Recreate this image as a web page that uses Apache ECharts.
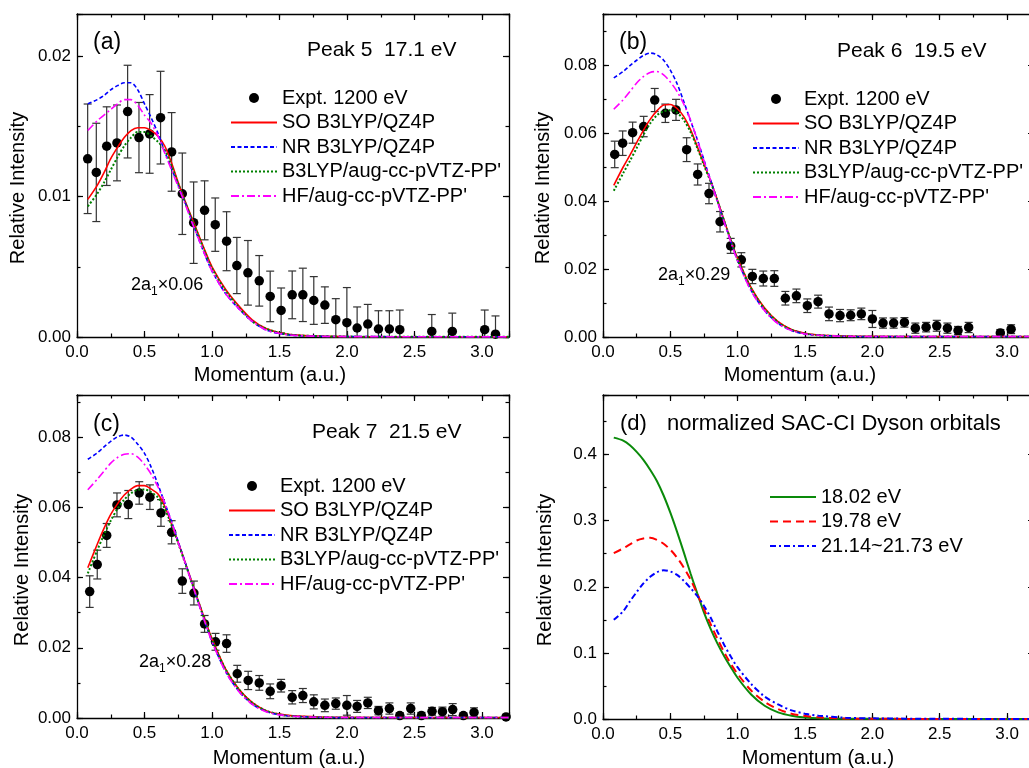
<!DOCTYPE html>
<html>
<head>
<meta charset="utf-8">
<script src="https://cdn.jsdelivr.net/npm/echarts@6/dist/echarts.min.js"></script>
<style>
html,body{margin:0;padding:0;background:#fff;}
#chart{width:1029px;height:768px;}
</style>
</head>
<body>
<div id="chart"></div>
<script>
// ---------------- DATA ----------------
const momentumGrid = [0.08,0.15,0.2,0.25,0.3,0.35,0.4,0.45,0.5,0.55,0.6,0.65,0.7,0.75,0.8,0.85,0.9,0.95,1.0,1.1,1.2,1.3,1.4,1.5,1.6,1.8,2.0,2.5,3.0,3.2];
const xTickLabels = ['0.0','0.5','1.0','1.5','2.0','2.5','3.0'];

// Panel (a) Peak 5 17.1 eV
const expA_x = [0.079,0.143,0.220,0.296,0.375,0.459,0.538,0.619,0.701,0.780,0.864,0.945,1.024,1.108,1.184,1.266,1.350,1.431,1.512,1.594,1.673,1.754,1.836,1.917,1.999,2.075,2.154,2.233,2.314,2.391,2.628,2.780,3.020,3.100];
const expA_y = [0.01269,0.01172,0.01359,0.01382,0.01605,0.0142,0.01446,0.01562,0.01318,0.0102,0.00814,0.00902,0.0080,0.00682,0.00509,0.00457,0.0040,0.00289,0.00189,0.0030,0.0030,0.0026,0.00227,0.00123,0.00102,0.00064,0.00092,0.00057,0.00057,0.00052,0.0004,0.0004,0.00052,0.0002];
const expA_err = [0.0039,0.0035,0.0028,0.0027,0.0033,0.0025,0.0028,0.0033,0.0028,0.0029,0.0029,0.0021,0.0019,0.0021,0.0020,0.0023,0.0018,0.0018,0.0016,0.0017,0.0019,0.0017,0.0013,0.0015,0.0025,0.0015,0.0014,0.0013,0.0013,0.0014,0.0012,0.0013,0.0014,0.0013];
const soA = [0.0098,0.0108,0.0117,0.0127,0.0135,0.0142,0.0147,0.0149,0.0149,0.0147,0.0143,0.0136,0.0124,0.0110,0.0097,0.0085,0.0073,0.0061,0.0050,0.0034,0.0022,0.0012,0.0006,0.0003,0.00015,0.00006,0.00003,0.00002,0.00001,0.00001];
const nrA = [0.0166,0.0169,0.0172,0.0176,0.0179,0.0181,0.0181,0.0176,0.0166,0.0156,0.0145,0.0132,0.0120,0.0108,0.0096,0.0083,0.0070,0.0058,0.0047,0.0031,0.0020,0.0011,0.0005,0.00025,0.00012,0.00005,0.00003,0.00002,0.00001,0.00001];
const b3A = [0.0093,0.0102,0.0110,0.0119,0.0128,0.0136,0.0142,0.0146,0.0146,0.0143,0.0139,0.0133,0.0122,0.0109,0.0096,0.0084,0.0072,0.0060,0.0049,0.0033,0.0021,0.0011,0.0006,0.0003,0.00014,0.00006,0.00003,0.00002,0.00001,0.00001];
const hfA = [0.0147,0.0154,0.0158,0.0162,0.0166,0.0169,0.0169,0.0165,0.0158,0.0152,0.0143,0.0131,0.0119,0.0107,0.0095,0.0082,0.0070,0.0058,0.0047,0.0031,0.0020,0.0011,0.0005,0.00025,0.00012,0.00005,0.00003,0.00002,0.00001,0.00001];

// Panel (b) Peak 6 19.5 eV
const expB_x = [0.087,0.146,0.220,0.302,0.384,0.463,0.542,0.621,0.703,0.787,0.869,0.948,1.027,1.109,1.190,1.272,1.354,1.436,1.517,1.597,1.678,1.760,1.839,1.918,2.000,2.079,2.158,2.238,2.319,2.399,2.478,2.557,2.636,2.715,2.950,3.030];
const expB_y = [0.0537,0.0570,0.0601,0.0619,0.0697,0.0658,0.0668,0.0551,0.0478,0.0422,0.0339,0.0268,0.0227,0.0178,0.0172,0.0172,0.0114,0.0121,0.0092,0.0104,0.0068,0.0063,0.0064,0.0068,0.0053,0.0041,0.0041,0.0043,0.0026,0.0029,0.0033,0.0026,0.0019,0.0028,0.0012,0.0023];
const expB_err = [0.0039,0.0036,0.0031,0.0030,0.0034,0.0027,0.0031,0.0035,0.0031,0.0030,0.0030,0.0022,0.0021,0.0021,0.0022,0.0023,0.0020,0.0020,0.0020,0.0019,0.0020,0.0018,0.0016,0.0017,0.0025,0.0015,0.0015,0.0014,0.0015,0.0014,0.0016,0.0015,0.0012,0.0015,0.0010,0.0013];
const soB = [0.0446,0.0500,0.0535,0.0572,0.0608,0.0640,0.0665,0.0682,0.0684,0.0672,0.0648,0.0610,0.0560,0.0508,0.0458,0.0402,0.0342,0.0284,0.0231,0.0145,0.0085,0.0045,0.0022,0.0011,0.0006,0.0003,0.0002,0.0001,0.0001,0.0001];
const nrB = [0.0762,0.0781,0.0798,0.0814,0.0828,0.0835,0.0830,0.0814,0.0785,0.0745,0.0692,0.0636,0.0581,0.0520,0.0460,0.0400,0.0339,0.0280,0.0225,0.0137,0.0078,0.0040,0.0019,0.0009,0.0005,0.0002,0.0001,0.0001,0.0001,0.0001];
const b3B = [0.0430,0.0482,0.0518,0.0556,0.0594,0.0628,0.0652,0.0664,0.0667,0.0660,0.0638,0.0603,0.0556,0.0505,0.0455,0.0400,0.0341,0.0283,0.0229,0.0143,0.0083,0.0044,0.0021,0.0010,0.0005,0.0002,0.0001,0.0001,0.0001,0.0001];
const hfB = [0.0670,0.0698,0.0722,0.0747,0.0766,0.0778,0.0781,0.0771,0.0750,0.0722,0.0685,0.0638,0.0580,0.0518,0.0458,0.0398,0.0337,0.0278,0.0223,0.0135,0.0077,0.0039,0.0019,0.0009,0.0005,0.0002,0.0001,0.0001,0.0001,0.0001];

// Panel (c) Peak 7 21.5 eV
const expC_x = [0.094,0.150,0.220,0.296,0.380,0.461,0.540,0.622,0.701,0.780,0.866,0.945,1.026,1.108,1.187,1.268,1.350,1.431,1.512,1.594,1.673,1.754,1.836,1.917,1.999,2.075,2.154,2.233,2.314,2.391,2.472,2.551,2.630,2.707,2.783,2.862,2.941,3.178];
const expC_y = [0.0360,0.0437,0.0520,0.0607,0.0608,0.0641,0.0629,0.0584,0.0529,0.0390,0.0356,0.0268,0.0217,0.0212,0.0126,0.0107,0.0100,0.0076,0.0092,0.0059,0.0064,0.0046,0.0036,0.0041,0.0036,0.0033,0.0043,0.0021,0.0027,0.0007,0.0027,0.0007,0.0019,0.0018,0.0024,0.0007,0.0016,0.0003];
const expC_err = [0.0045,0.0041,0.0034,0.0034,0.0040,0.0032,0.0035,0.0038,0.0033,0.0035,0.0034,0.0024,0.0024,0.0025,0.0024,0.0026,0.0021,0.0021,0.0018,0.0019,0.0020,0.0020,0.0018,0.0016,0.0028,0.0017,0.0016,0.0012,0.0016,0.0008,0.0016,0.0009,0.0011,0.0013,0.0017,0.0007,0.0013,0.0005];
const soC = [0.0428,0.0495,0.0540,0.0580,0.0610,0.0635,0.0652,0.0662,0.0662,0.0652,0.0638,0.0603,0.0553,0.0500,0.0445,0.0388,0.0332,0.0277,0.0226,0.0140,0.0082,0.0044,0.0021,0.0011,0.0006,0.0003,0.0002,0.0001,0.0001,0.0001];
const nrC = [0.0737,0.0755,0.0772,0.0788,0.0801,0.0806,0.0800,0.0780,0.0754,0.0714,0.0665,0.0612,0.0560,0.0502,0.0445,0.0386,0.0328,0.0271,0.0218,0.0133,0.0076,0.0039,0.0019,0.0009,0.0005,0.0002,0.0001,0.0001,0.0001,0.0001];
const b3C = [0.0412,0.0478,0.0522,0.0562,0.0596,0.0622,0.0640,0.0650,0.0651,0.0643,0.0628,0.0596,0.0549,0.0497,0.0442,0.0386,0.0330,0.0275,0.0224,0.0139,0.0081,0.0043,0.0021,0.0010,0.0005,0.0002,0.0001,0.0001,0.0001,0.0001];
const hfC = [0.0650,0.0680,0.0703,0.0726,0.0742,0.0751,0.0753,0.0743,0.0722,0.0694,0.0658,0.0613,0.0558,0.0500,0.0443,0.0385,0.0327,0.0270,0.0217,0.0132,0.0075,0.0038,0.0018,0.0009,0.0005,0.0002,0.0001,0.0001,0.0001,0.0001];

// Panel (d) normalized SAC-CI Dyson orbitals
const dyson1802 = [0.4255,0.421,0.414,0.404,0.392,0.377,0.360,0.338,0.312,0.283,0.252,0.220,0.190,0.161,0.136,0.114,0.095,0.078,0.062,0.037,0.020,0.010,0.005,0.0024,0.0012,0.0004,0.0002,0.0001,0,0];
const dyson1978 = [0.251,0.258,0.264,0.270,0.273,0.274,0.271,0.265,0.256,0.244,0.229,0.211,0.189,0.166,0.143,0.121,0.101,0.083,0.068,0.043,0.026,0.015,0.008,0.0045,0.0025,0.0008,0.0003,0.0001,0,0];
const dyson2114 = [0.150,0.163,0.178,0.192,0.205,0.215,0.222,0.225,0.223,0.218,0.209,0.198,0.186,0.171,0.153,0.132,0.112,0.094,0.078,0.053,0.034,0.022,0.013,0.008,0.005,0.002,0.001,0.0003,0.0001,0];

const theoryNames = ['SO B3LYP/QZ4P','NR B3LYP/QZ4P',"B3LYP/aug-cc-pVTZ-PP'","HF/aug-cc-pVTZ-PP'"];
const exptName = 'Expt. 1200 eV';
const dysonNames = ['18.02 eV','19.78 eV','21.14~21.73 eV'];
const peakTitles = ['Peak 5  17.1 eV','Peak 6  19.5 eV','Peak 7  21.5 eV'];
const scaleNotes = ['0.06','0.29','0.28'];

// ---------------- LAYOUT / STYLE ----------------
const FONT = "'Liberation Sans', Arial, Helvetica, sans-serif";
const grids = [
  {left:77, top:14, width:432, height:323},
  {left:603, top:14, width:431, height:323},
  {left:77, top:395, width:432, height:323},
  {left:603, top:395, width:431, height:324}
];
const yCfg = [
  {max:0.023, major:0.01, minor:0.005, digits:2},
  {max:0.095, major:0.02, minor:0.01, digits:2},
  {max:0.092, major:0.02, minor:0.01, digits:2},
  {max:0.49, major:0.1, minor:0.05, digits:1}
];
const xCfg = {max:3.2, major:0.5, minor:0.25, digits:1};

function fmtFor(major, digits){
  return function(v){
    const k = v / major;
    return Math.abs(k - Math.round(k)) < 1e-6 ? v.toFixed(digits) : '';
  };
}
const axisLineStyle = {color:'#000', width:1.3};
function axisSet(dim, g, cfg){
  const posA = dim === 'x' ? 'bottom' : 'left';
  const posB = dim === 'x' ? 'top' : 'right';
  const base = {type:'value', gridIndex:g, min:0, max:cfg.max, splitLine:{show:false}, minorTick:{show:false}};
  const tickMajor = {show:true, inside:true, length:6, lineStyle:{color:'#000', width:1.2}};
  const tickMinor = {show:true, inside:true, length:3.5, lineStyle:{color:'#000', width:1.2}};
  return [
    Object.assign({}, base, {position:posA, interval:cfg.major,
      axisLine:{show:true, onZero:false, lineStyle:axisLineStyle}, axisTick:tickMajor,
      axisLabel:{show:true, margin: dim === 'x' ? 7 : 6, color:'#000', fontSize:17, fontFamily:FONT, formatter:fmtFor(cfg.major, cfg.digits)}}),
    Object.assign({}, base, {position:posA, interval:cfg.minor,
      axisLine:{show:false, onZero:false}, axisTick:tickMinor, axisLabel:{show:false}}),
    Object.assign({}, base, {position:posB, interval:cfg.major,
      axisLine:{show:true, onZero:false, lineStyle:axisLineStyle}, axisTick:tickMajor, axisLabel:{show:false}}),
    Object.assign({}, base, {position:posB, interval:cfg.minor,
      axisLine:{show:false, onZero:false}, axisTick:tickMinor, axisLabel:{show:false}})
  ];
}

const xAxes = [], yAxes = [];
for (let g = 0; g < 4; g++) {
  xAxes.push(...axisSet('x', g, xCfg));
  yAxes.push(...axisSet('y', g, yCfg[g]));
}

function curve(arr){ return momentumGrid.map((x, i) => [x, arr[i]]); }
function points(xs, ys){ return xs.map((x, i) => [x, ys[i]]); }
function errData(xs, ys, es){ return xs.map((x, i) => [x, ys[i], es[i]]); }

const theoryStyles = [
  {color:'#ff0000', type:'solid', width:1.6},
  {color:'#0000ff', type:[4,2.5], width:1.6},
  {color:'#008000', type:[2,2], width:2},
  {color:'#ff00ff', type:[8,3,2,3], width:1.6}
];
const dysonStyles = [
  {color:'#0a8a0a', type:'solid', width:2},
  {color:'#ff0000', type:[8,5], width:2},
  {color:'#0000ff', type:[6,3,2,3], width:2}
];

function lineSeries(name, g, arr, st, z){
  return {type:'line', name:name, xAxisIndex:4*g, yAxisIndex:4*g, data:curve(arr),
    showSymbol:false, symbol:'none', smooth:0.3, z:z || 3,
    lineStyle:{color:st.color, type:st.type, width:st.width}, itemStyle:{color:st.color},
    emphasis:{disabled:true}};
}
function errSeries(g, xs, ys, es){
  return {type:'custom', name:'err'+g, xAxisIndex:4*g, yAxisIndex:4*g, z:1,
    data:errData(xs, ys, es), encode:{x:0, y:1},
    renderItem:function(params, api){
      const x = api.value(0), y = api.value(1), e = api.value(2);
      const lo = Math.max(y - e, 0);
      const pt = api.coord([x, y + e]);
      const pb = api.coord([x, lo]);
      const hw = 4;
      const st = {stroke:'#333', lineWidth:1.2};
      const ch = [
        {type:'line', shape:{x1:pt[0], y1:pt[1], x2:pb[0], y2:pb[1]}, style:Object.assign({}, st)},
        {type:'line', shape:{x1:pt[0]-hw, y1:pt[1], x2:pt[0]+hw, y2:pt[1]}, style:Object.assign({}, st)}
      ];
      if (y - e > 0) ch.push({type:'line', shape:{x1:pb[0]-hw, y1:pb[1], x2:pb[0]+hw, y2:pb[1]}, style:Object.assign({}, st)});
      return {type:'group', children:ch};
    }};
}
function scatterSeries(g, xs, ys){
  return {type:'scatter', name:exptName, xAxisIndex:4*g, yAxisIndex:4*g, z:2,
    data:points(xs, ys), symbol:'circle', symbolSize:9.5, itemStyle:{color:'#000', opacity:1}, emphasis:{disabled:true}};
}

const series = [];
const exps = [[expA_x, expA_y, expA_err],[expB_x, expB_y, expB_err],[expC_x, expC_y, expC_err]];
const theo = [[soA, nrA, b3A, hfA],[soB, nrB, b3B, hfB],[soC, nrC, b3C, hfC]];
for (let g = 0; g < 3; g++) {
  series.push(errSeries(g, exps[g][0], exps[g][1], exps[g][2]));
  series.push(scatterSeries(g, exps[g][0], exps[g][1]));
  theo[g].forEach((arr, k) => series.push(lineSeries(theoryNames[k], g, arr, theoryStyles[k], 3 + k)));
}
[dyson1802, dyson1978, dyson2114].forEach((arr, k) => series.push(lineSeries(dysonNames[k], 3, arr, dysonStyles[k], 3 + k)));

function legendAt(left, top, names){
  return {show:true, orient:'vertical', left:left, top:top, padding:0, itemWidth:46, itemHeight:10, itemGap:4.5,
    selectedMode:false, itemStyle:{opacity:0},
    data:names.map(n => n === exptName ? {name:n, itemStyle:{opacity:1}} : {name:n}),
    textStyle:{fontSize:20, fontFamily:FONT, color:'#000', lineHeight:20}};
}
const legNames = [exptName].concat(theoryNames);
const legends = [
  legendAt(230, 88, legNames),
  legendAt(752, 89, legNames),
  legendAt(228, 476, legNames),
  legendAt(769, 487, dysonNames)
];

// ---------------- TEXT (graphic) ----------------
const mctx = document.createElement('canvas').getContext('2d');
function tw(s, size){ mctx.font = size + 'px ' + FONT; return mctx.measureText(s).width; }
function txt(x, y, s, size, rot){
  return {type:'text', x:x, y:y, rotation:rot || 0, silent:true,
    style:{text:s, fontSize:size, fontFamily:FONT, fill:'#000', align: rot ? 'center' : 'left', verticalAlign:'middle'}};
}
function ctxt(x, y, s, size){
  return {type:'text', x:x, y:y, silent:true,
    style:{text:s, fontSize:size, fontFamily:FONT, fill:'#000', align:'center', verticalAlign:'middle'}};
}
function scaleNote(x, y, factor){
  const w1 = tw('2a', 18), w2 = tw('1', 12);
  return [txt(x, y, '2a', 18), txt(x + w1, y + 7, '1', 12), txt(x + w1 + w2, y, '×' + factor, 18)];
}
const graphic = [
  txt(93, 43, '(a)', 23), txt(307, 50, peakTitles[0], 21),
  txt(619, 43, '(b)', 23), txt(837, 51, peakTitles[1], 21),
  txt(93, 425, '(c)', 23), txt(312, 432, peakTitles[2], 21),
  txt(620, 424, '(d)', 22), txt(667, 424, 'normalized SAC-CI Dyson orbitals', 22),
  ctxt(270, 375, 'Momentum (a.u.)', 20), ctxt(800, 375, 'Momentum (a.u.)', 20),
  ctxt(289, 758, 'Momentum (a.u.)', 20), ctxt(818, 758, 'Momentum (a.u.)', 20),
  txt(18, 188, 'Relative Intensity', 20, Math.PI/2), txt(543, 188, 'Relative Intensity', 20, Math.PI/2),
  txt(22, 570, 'Relative Intensity', 20, Math.PI/2), txt(545, 570, 'Relative Intensity', 20, Math.PI/2)
].concat(scaleNote(131, 285, scaleNotes[0]), scaleNote(658, 275, scaleNotes[1]), scaleNote(139, 662, scaleNotes[2]));

const chart = echarts.init(document.getElementById('chart'), null, {renderer:'canvas'});
chart.setOption({
  animation:false,
  backgroundColor:'#fff',
  grid: grids.map(g => Object.assign({containLabel:false, outerBoundsMode:'none'}, g)),
  xAxis: xAxes,
  yAxis: yAxes,
  legend: legends,
  series: series,
  graphic: graphic
});
</script>
</body>
</html>
